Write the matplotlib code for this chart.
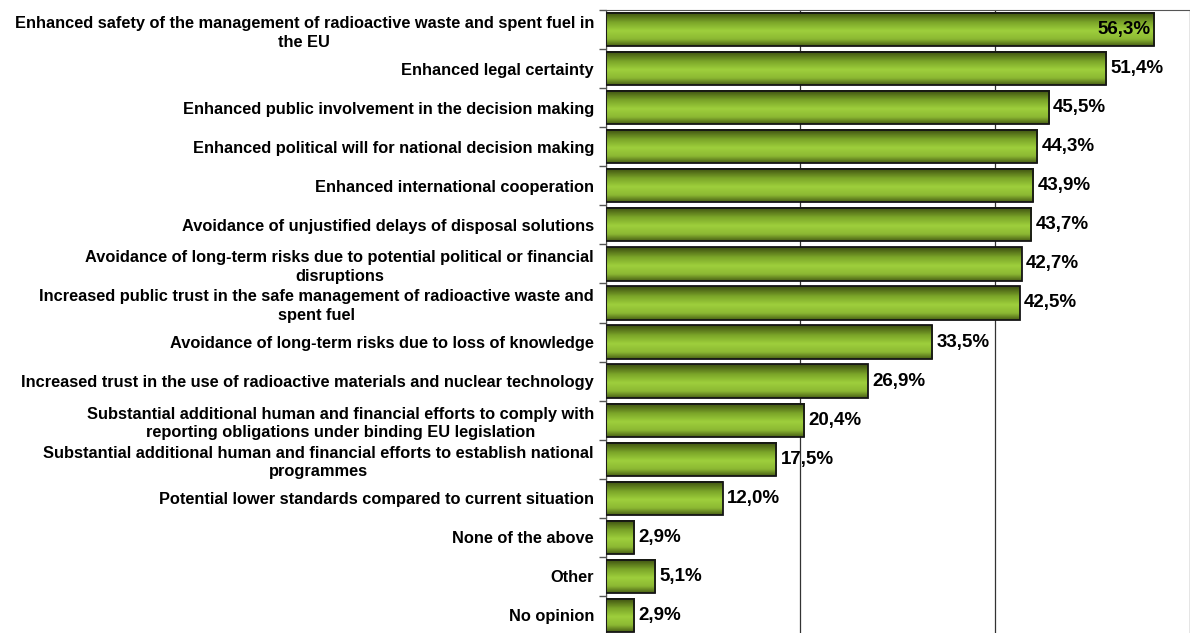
import numpy as np
import matplotlib
matplotlib.use("Agg")
import matplotlib.pyplot as plt
from matplotlib.colors import LinearSegmentedColormap

# answer options, top to bottom, and share of respondents (%)
labels = [
    "Enhanced safety of the management of radioactive waste and spent fuel in\nthe EU",
    "Enhanced legal certainty",
    "Enhanced public involvement in the decision making",
    "Enhanced political will for national decision making",
    "Enhanced international cooperation",
    "Avoidance of unjustified delays of disposal solutions",
    "Avoidance of long-term risks due to potential political or financial\ndisruptions",
    "Increased public trust in the safe management of radioactive waste and\nspent fuel",
    "Avoidance of long-term risks due to loss of knowledge",
    "Increased trust in the use of radioactive materials and nuclear technology",
    "Substantial additional human and financial efforts to comply with\nreporting obligations under binding EU legislation",
    "Substantial additional human and financial efforts to establish national\nprogrammes",
    "Potential lower standards compared to current situation",
    "None of the above",
    "Other",
    "No opinion",
]
values = [56.3, 51.4, 45.5, 44.3, 43.9, 43.7, 42.7, 42.5, 33.5, 26.9, 20.4, 17.5, 12.0, 2.9, 5.1, 2.9]

plt.rcParams["font.family"] = ["Liberation Sans", "DejaVu Sans"]

fig = plt.figure(figsize=(11.9, 6.33), dpi=100)
ax = fig.add_axes([0.509, -0.003, 0.491, 0.987])

# shaded green for the bars, dark at the edges and light in the middle
green = LinearSegmentedColormap.from_list(
    "bar_green",
    [(0.0, "#3c4e10"), (0.3, "#7ca629"), (0.55, "#9ecf3c"),
     (0.8, "#8cb833"), (1.0, "#4a6115")])
shade = np.linspace(0, 1, 64).reshape(-1, 1)

pos = np.arange(len(values))
h = 0.85
for y, v in zip(pos, values):
    ax.imshow(shade, extent=[0, v, y + h / 2, y - h / 2], cmap=green,
              aspect="auto", zorder=2, interpolation="bilinear")
ax.barh(pos, values, height=h, facecolor="none", edgecolor="#151515",
        linewidth=1.3, zorder=3)

for y, v in zip(pos, values):
    txt = f"{v:.1f}%".replace(".", ",")
    if v > 55:
        ax.text(v - 0.3, y, txt, ha="right", va="center", fontsize=13.5,
                fontweight="bold", zorder=4)
    else:
        ax.text(v + 0.45, y, txt, ha="left", va="center", fontsize=13.5,
                fontweight="bold", zorder=4)

ax.set_xlim(0, 60)
ax.set_ylim(len(values) - 0.5, -0.5)
ax.set_xticks([0, 20, 40, 60])
ax.xaxis.grid(True, color="#333333", linewidth=0.9, zorder=1)
ax.set_axisbelow(True)
ax.tick_params(axis="x", length=0, labelbottom=False)

ax.set_yticks(pos)
ax.set_yticklabels(labels, fontsize=11.8, fontweight="bold", ha="right",
                   multialignment="center", linespacing=1.3)
ax.tick_params(axis="y", length=0, pad=8.5)
ax.set_yticks(np.arange(-0.5, len(values)), minor=True)
ax.tick_params(axis="y", which="minor", length=5, width=1, color="#555555")

for side in ["right", "bottom"]:
    ax.spines[side].set_visible(False)
ax.spines["left"].set_color("#555555")
ax.spines["top"].set_color("#555555")

fig.savefig("out.png", dpi=100)
